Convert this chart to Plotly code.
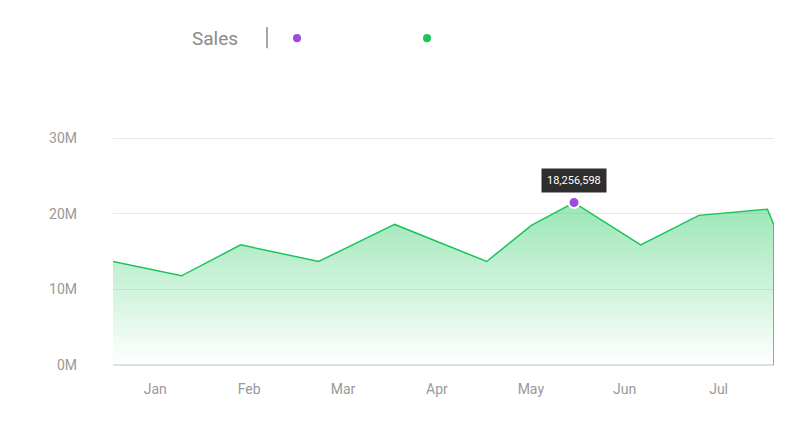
import plotly.graph_objects as go

# month positions (0 = Jan), sales in millions
month_pos = [-0.45, 0.28, 0.91, 1.74, 2.55, 3.53, 4.01, 4.46, 5.17, 5.79, 6.52, 6.59]
sales_m = [13.7, 11.8, 15.9, 13.7, 18.6, 13.7, 18.5, 21.5, 15.9, 19.8, 20.6, 18.5]
months = ['Jan', 'Feb', 'Mar', 'Apr', 'May', 'Jun', 'Jul']
y_ticks = [0, 10, 20, 30]
y_labels = ['0M', '10M', '20M', '30M']
peak_idx = 7
peak_text = '18,256,598'

green, purple = '#1cc45a', '#9a4fdc'

fig = go.Figure()
fig.add_trace(go.Scatter(
    x=month_pos + [month_pos[-1]], y=sales_m + [0], mode='lines',
    line=dict(color=green, width=1.5), fill='tozeroy',
    fillgradient=dict(type='vertical',
                      colorscale=[[0, 'rgba(30,200,90,0.0)'], [1, 'rgba(30,200,90,0.45)']]),
    hoverinfo='skip'))
fig.add_trace(go.Scatter(
    x=[month_pos[peak_idx]], y=[sales_m[peak_idx]], mode='markers',
    marker=dict(color=purple, size=11, line=dict(color='white', width=2))))

fig.add_annotation(x=month_pos[peak_idx], y=sales_m[peak_idx], yshift=22, text=peak_text,
                   showarrow=False, bgcolor='#2e2e2e', borderpad=5,
                   font=dict(color='white', size=11, family='Roboto'))

# legend header
fig.add_annotation(x=(207 - 105) / 661, y=(357 - 33) / 227, xref='paper', yref='paper',
                   xanchor='center', yanchor='middle',
                   text='Sales', showarrow=False, font=dict(size=19, color='#8a8a8a', family='Roboto'))
fig.add_shape(type='line', xref='paper', yref='paper', x0=(259 - 105) / 661, x1=(259 - 105) / 661,
              y0=(357 - 22) / 227, y1=(357 - 43) / 227, line=dict(color='#8a8a8a', width=1.5))
for px_, col in [(289, purple), (419, green)]:
    fig.add_shape(type='circle', xref='paper', yref='paper',
                  x0=(px_ - 4 - 105) / 661, x1=(px_ + 4 - 105) / 661,
                  y0=(357 - 29) / 227, y1=(357 - 37) / 227, fillcolor=col, line=dict(width=0))

fig.update_layout(
    width=800, height=448, showlegend=False, plot_bgcolor='white', paper_bgcolor='white',
    margin=dict(l=105, r=34, t=128, b=91),
    font=dict(family='Roboto', color='#999999', size=14),
    xaxis=dict(range=[-0.45, 6.59], tickvals=list(range(len(months))), ticktext=months,
               showgrid=False, zeroline=False, showline=False, ticklabelstandoff=14,
               automargin=False),
    yaxis=dict(range=[0, 30.3], tickvals=y_ticks, ticktext=y_labels, gridcolor='#e8e8e8',
               zeroline=True, zerolinecolor='#e0e0e0', ticklabelstandoff=35,
               automargin=False),
)
fig.write_html("out.html")
